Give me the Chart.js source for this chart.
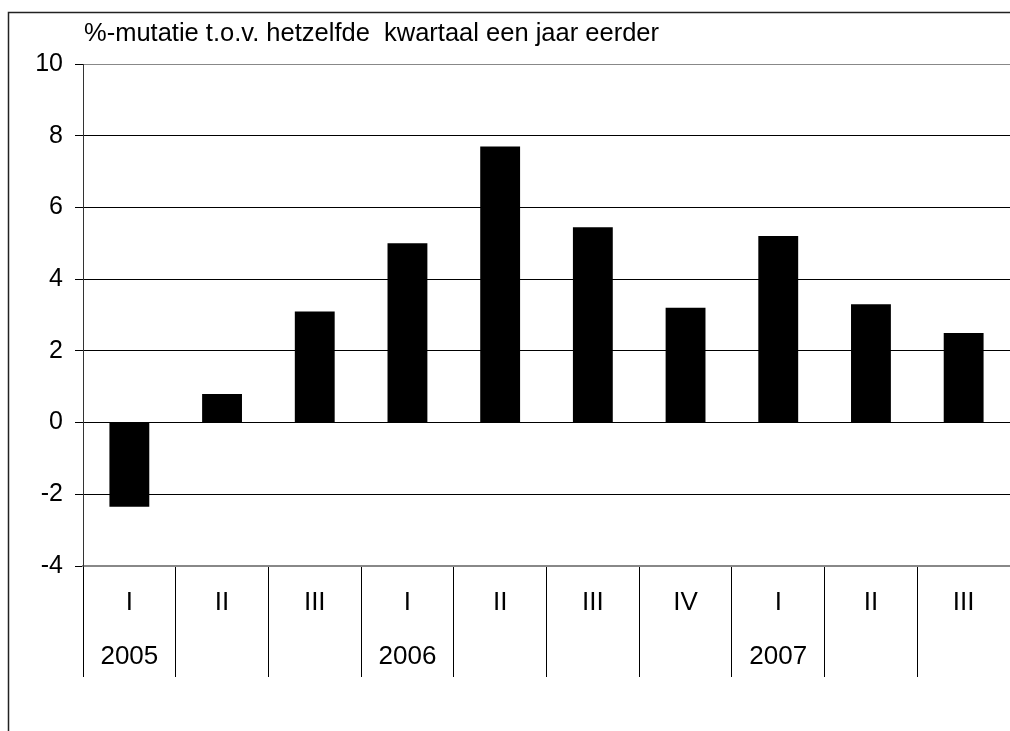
<!DOCTYPE html>
<html><head><meta charset="utf-8">
<script src="https://cdn.jsdelivr.net/npm/chart.js@4/dist/chart.umd.min.js"></script>
<style>html,body{margin:0;padding:0;background:#fff;overflow:hidden}</style>
</head><body>
<canvas id="c" width="1010" height="731"></canvas>
<script>
// ---- data ----
const quarters = ['I','II','III','I','II','III','IV','I','II','III'];
const years = ['2005','','','2006','','','','2007','',''];
const values = [-2.35, 0.8, 3.1, 5.0, 7.7, 5.45, 3.2, 5.2, 3.3, 2.5];
const yMin = -4, yMax = 10, yStep = 2;
const titleText = '%-mutatie t.o.v. hetzelfde  kwartaal een jaar eerder';

const labels = quarters.map((q, i) => [q, years[i]]);
const FONT = "'Liberation Sans', Arial, sans-serif";
Chart.defaults.font.family = FONT;
Chart.defaults.color = '#000';

const framePlugin = {
  id: 'frame',
  afterDraw(chart) {
    const ctx = chart.ctx;
    ctx.save();
    ctx.strokeStyle = '#222';
    ctx.lineWidth = 1.5;
    ctx.beginPath();
    ctx.moveTo(8.5, 731);
    ctx.lineTo(8.5, 12.5);
    ctx.lineTo(1010, 12.5);
    ctx.stroke();
    ctx.fillStyle = '#000';
    ctx.font = "25.5px " + FONT;
    ctx.textBaseline = 'middle';
    ctx.textAlign = 'left';
    ctx.fillText(titleText, chart.chartArea.left + 1, 34);
    ctx.restore();
  }
};

new Chart(document.getElementById('c'), {
  type: 'bar',
  data: {
    labels: labels,
    datasets: [{
      data: values,
      backgroundColor: '#000',
      borderWidth: 0,
      barPercentage: 0.43,
      categoryPercentage: 1.0
    }]
  },
  options: {
    responsive: false,
    animation: false,
    devicePixelRatio: 1,
    layout: { padding: { top: 64, left: 8, right: 0, bottom: 0 } },
    plugins: { legend: { display: false }, tooltip: { enabled: false }, title: { display: false } },
    scales: {
      x: {
        offset: true,
        grid: { offset: true, drawOnChartArea: false, drawTicks: true, tickLength: 111, color: '#000', lineWidth: 1 },
        border: { display: true, color: '#888', width: 2 },
        ticks: { font: { size: 26, lineHeight: 2.08 }, padding: -101, maxRotation: 0, autoSkip: false, color: '#000' },
        afterFit(scale) { scale.height = 165; }
      },
      y: {
        min: yMin, max: yMax,
        ticks: { stepSize: yStep, font: { size: 25 }, padding: 12, color: '#000' },
        grid: {
          color: (c) => (c.tick && (c.tick.value === yMax || c.tick.value === yMin)) ? '#888' : '#000',
          tickColor: '#000', tickLength: 8, lineWidth: 1
        },
        border: { display: true, color: '#333', width: 1 },
        afterFit(scale) { scale.width = 75; }
      }
    }
  },
  plugins: [framePlugin]
});
</script>
</body></html>
